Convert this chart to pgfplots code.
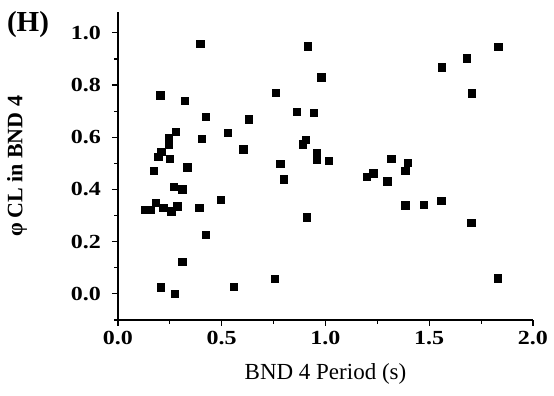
\documentclass[border=0pt]{standalone}
\usepackage{fontspec}
\setmainfont{Liberation Serif}
\newfontfamily\tickfont[FakeStretch=1.2]{Liberation Serif}
\usepackage{pgfplots}
\pgfplotsset{compat=1.18}
\begin{document}
\begin{tikzpicture}
\useasboundingbox (-59pt,-38pt) rectangle (218pt,160pt);
\begin{axis}[
  scale only axis,
  width=207.5pt, height=154pt,
  xmin=0, xmax=2.0, ymin=-0.1, ymax=1.08,
  axis x line*=bottom, axis y line*=left,
  axis line style={line width=0.7pt},
  xtick={0,0.5,1.0,1.5,2.0},
  ytick={0,0.2,0.4,0.6,0.8,1.0},
  minor xtick={0.25,0.75,1.25,1.75},
  minor ytick={-0.1,0.1,0.3,0.5,0.7,0.9},
  tick align=outside,
  major tick length=3pt, minor tick length=1.8pt,
  tick style={line width=0.6pt, black},
  /pgf/number format/assume math mode=true,
  /pgf/number format/.cd, fixed, fixed zerofill, precision=1, /pgfplots/.cd,
  ticklabel style={font=\tickfont\fontsize{10}{12}\selectfont\bfseries},
  yticklabel style={xshift=-2pt},
  xticklabel style={yshift=1pt},
  xlabel={BND 4 Period (s)},
  xlabel style={font=\fontsize{11.5}{13}\selectfont, at={(axis description cs:0.5,0)}, anchor=base, yshift=-30pt},
  clip=false,
]
\addplot[only marks, mark=square*, mark size=1.85pt, black] coordinates {
(0.397,0.958) (0.915,0.948) (0.980,0.830) (0.204,0.760) (0.322,0.740)
(0.761,0.770) (0.424,0.678) (0.630,0.668) (0.861,0.698) (0.943,0.694)
(0.280,0.620) (0.529,0.617) (0.246,0.598) (0.246,0.571) (0.403,0.593)
(0.906,0.591) (0.892,0.572) (0.604,0.553) (0.210,0.544) (0.194,0.525)
(0.249,0.518) (0.335,0.484) (0.783,0.498) (0.958,0.540) (0.958,0.513)
(1.015,0.510) (0.174,0.472) (0.800,0.439) (0.268,0.410) (0.310,0.400)
(0.495,0.359) (0.130,0.322) (0.158,0.322) (0.182,0.348) (0.218,0.329)
(0.257,0.316) (0.286,0.335) (0.393,0.329) (0.910,0.293) (0.423,0.227)
(0.310,0.122) (0.208,0.025) (0.273,-0.001) (0.560,0.026) (0.755,0.057)
(1.834,0.946) (1.682,0.902) (1.561,0.867) (1.706,0.768) (1.318,0.518)
(1.397,0.502) (1.385,0.471) (1.199,0.448) (1.231,0.461) (1.298,0.431)
(1.385,0.339) (1.475,0.342) (1.558,0.357) (1.703,0.273) (1.832,0.059)
};
\end{axis}
\node[font=\fontsize{11}{13}\selectfont\bfseries, rotate=90] at (-50.5pt,77pt) {φ\,CL in BND 4};
\node[font=\fontsize{14.5}{16}\selectfont\bfseries] at (-45pt,147.5pt) {(H)};
\end{tikzpicture}
\end{document}
